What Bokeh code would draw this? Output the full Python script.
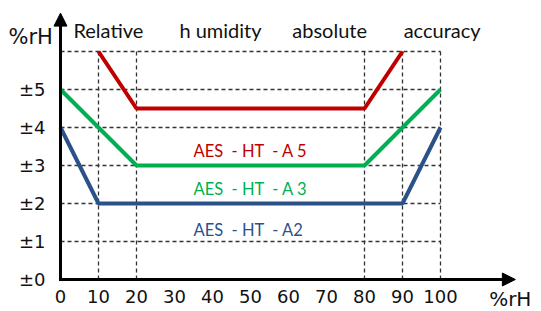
from bokeh.plotting import figure
from bokeh.models import Range1d, FixedTicker, Arrow, NormalHead
from bokeh.core.properties import value
from bokeh.embed import file_html
from bokeh.resources import INLINE

# ---- data ----
x_ticks = [0, 10, 20, 30, 40, 50, 60, 70, 80, 90, 100]
y_ticks = [0, 1, 2, 3, 4, 5]
y_tick_labels = ["±0", "±1", "±2", "±3", "±4", "±5"]
grid_y = [1, 2, 3, 4, 5, 6]
grid_x = [10, 20, 80, 90, 100]

a5_x = [10, 20, 80, 90]
a5_y = [6, 4.5, 4.5, 6]
a3_x = [0, 10, 20, 80, 90, 100]
a3_y = [5, 4, 3, 3, 4, 5]
a2_x = [0, 10, 90, 100]
a2_y = [4, 2, 2, 4]

series_names = ["AES\u00a0 - HT\u00a0 - A 5", "AES\u00a0 - HT\u00a0 - A 3", "AES\u00a0 - HT\u00a0 - A2"]
series_colors = ["#c00000", "#00b050", "#2a5289"]
title_words = ["Relative", "h umidity", "absolute", "accuracy"]
title_word_x = [3.4, 31.3, 61.0, 90.3]
axis_unit = "%rH"

p = figure(width=541, height=311, output_backend="svg", toolbar_location=None,
           x_range=Range1d(-15.789, 126.58), y_range=Range1d(-0.8421, 7.342),
           min_border_left=0, min_border_right=0, min_border_top=0,
           min_border_bottom=0, outline_line_color=None)
p.grid.visible = False

# axes (drawn at the data origin, inside the frame)
p.xaxis.ticker = FixedTicker(ticks=x_ticks)
p.yaxis.ticker = FixedTicker(ticks=y_ticks)
p.yaxis.major_label_overrides = {t: l for t, l in zip(y_ticks, y_tick_labels)}
for ax in (p.xaxis, p.yaxis):
    ax.fixed_location = 0
    ax.axis_line_color = None
    ax.major_tick_line_color = None
    ax.minor_tick_line_color = None
    ax.major_tick_out = 0
    ax.major_tick_in = 0
    ax.major_label_text_font = "DejaVu Sans"
    ax.major_label_text_color = "#111111"
    ax.major_label_text_font_size = "18px"
p.xaxis.major_label_standoff = 11
p.yaxis.major_label_standoff = 15

# dashed grid
for gy in grid_y:
    p.line([0, 100], [gy, gy], line_color="#333333", line_width=1.3, line_dash="4 3")
for gx in grid_x:
    p.line([gx, gx], [0, 6], line_color="#333333", line_width=1.3, line_dash="4 3")

# series
for xs, ys, c in ((a2_x, a2_y, series_colors[2]), (a3_x, a3_y, series_colors[1]),
                  (a5_x, a5_y, series_colors[0])):
    p.line(xs, ys, line_color=c, line_width=4)

# series labels
label_y = [3.39, 2.39, 1.29]
for name, c, ly in zip(series_names, series_colors, label_y):
    p.text(x=[35.0], y=[ly], text=[name], text_color=c, text_font=value("Lato"),
           text_font_size="16.5px", text_align="left", text_baseline="alphabetic")

# title words
p.text(x=title_word_x, y=[6.56] * 4, text=title_words, text_color="#111111",
       text_font=value("Lato"), text_font_size="20px", text_align="left",
       text_baseline="alphabetic")

# axis arrows
p.add_layout(Arrow(end=NormalHead(size=13, fill_color="black", line_color="black"),
                   x_start=-0.4, y_start=0, x_end=119.7, y_end=0,
                   line_width=3, line_color="black"))
p.add_layout(Arrow(end=NormalHead(size=13, fill_color="black", line_color="black"),
                   x_start=0, y_start=-0.04, x_end=0, y_end=7.01,
                   line_width=3, line_color="black"))

# unit labels
p.text(x=[-13.7], y=[6.37], text=[axis_unit],
       text_color="#111111", text_font=value("DejaVu Sans"), text_font_size="21px",
       text_align="left", text_baseline="alphabetic")
p.text(x=[112.8], y=[-0.52], text=[axis_unit],
       text_color="#111111", text_font=value("DejaVu Sans"), text_font_size="20px",
       text_align="left", text_baseline="alphabetic")

open("out.html", "w").write(file_html(p, INLINE))
